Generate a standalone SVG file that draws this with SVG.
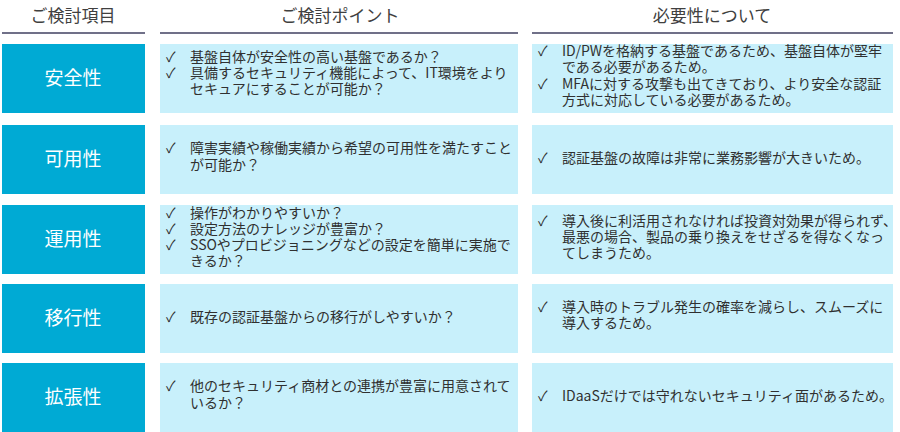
<svg xmlns="http://www.w3.org/2000/svg" width="900" height="432" viewBox="0 0 900 432">
<style>
.h{font-family:"Noto Sans CJK JP","Liberation Sans",sans-serif;font-size:17px;fill:#404040;text-anchor:middle}
.c{fill:#00AAD4}
.l{fill:#C8F0FB}
.ct{font-family:"Noto Sans CJK JP","Liberation Sans",sans-serif;font-size:19px;fill:#fff;text-anchor:middle}
.t{font-family:"Noto Sans CJK JP","Liberation Sans",sans-serif;font-size:14px;fill:#303030}
</style>
<rect width="900" height="432" fill="#fff"/>
<g id="header">
<text class="h" x="73" y="22">ご検討項目</text>
<text class="h" x="340" y="22">ご検討ポイント</text>
<text class="h" x="712" y="22">必要性について</text>
<line x1="2" y1="33" x2="145" y2="33" stroke="#404060" stroke-width="1.5"/>
<line x1="160" y1="33" x2="518" y2="33" stroke="#404060" stroke-width="1.5"/>
<line x1="532" y1="33" x2="893" y2="33" stroke="#404060" stroke-width="1.5"/>
</g>
<g id="row1">
<rect class="c" x="2" y="44" width="143" height="69"/><text class="ct" x="73" y="85">安全性</text>
<rect class="l" x="160" y="44" width="358" height="69"/>
<text class="t" x="166" y="62">✓</text><text class="t" x="190" y="62">基盤自体が安全性の高い基盤であるか？</text>
<text class="t" x="166" y="78">✓</text><text class="t" x="190" y="78">具備するセキュリティ機能によって、IT環境をより</text>
<text class="t" x="190" y="94">セキュアにすることが可能か？</text>
<rect class="l" x="532" y="44" width="361" height="69"/>
<text class="t" x="538" y="56">✓</text><text class="t" x="562" y="56">ID/PWを格納する基盤であるため、基盤自体が堅牢</text>
<text class="t" x="562" y="72">である必要があるため。</text>
<text class="t" x="538" y="89">✓</text><text class="t" x="562" y="89">MFAに対する攻撃も出てきており、より安全な認証</text>
<text class="t" x="562" y="105">方式に対応している必要があるため。</text>
</g>
<g id="row2">
<rect class="c" x="2" y="125" width="143" height="69"/><text class="ct" x="73" y="166">可用性</text>
<rect class="l" x="160" y="125" width="358" height="69"/>
<text class="t" x="166" y="153">✓</text><text class="t" x="190" y="153">障害実績や稼働実績から希望の可用性を満たすこと</text>
<text class="t" x="190" y="170">が可能か？</text>
<rect class="l" x="532" y="125" width="361" height="69"/>
<text class="t" x="538" y="163">✓</text><text class="t" x="562" y="163">認証基盤の故障は非常に業務影響が大きいため。</text>
</g>
<g id="row3">
<rect class="c" x="2" y="205" width="143" height="69"/><text class="ct" x="73" y="246">運用性</text>
<rect class="l" x="160" y="205" width="358" height="69"/>
<text class="t" x="166" y="218">✓</text><text class="t" x="190" y="218">操作がわかりやすいか？</text>
<text class="t" x="166" y="234">✓</text><text class="t" x="190" y="234">設定方法のナレッジが豊富か？</text>
<text class="t" x="166" y="250">✓</text><text class="t" x="190" y="250">SSOやプロビジョニングなどの設定を簡単に実施で</text>
<text class="t" x="190" y="266">きるか？</text>
<rect class="l" x="532" y="205" width="361" height="69"/>
<text class="t" x="538" y="226">✓</text><text class="t" x="562" y="226">導入後に利活用されなければ投資対効果が得られず、</text>
<text class="t" x="562" y="242">最悪の場合、製品の乗り換えをせざるを得なくなっ</text>
<text class="t" x="562" y="258">てしまうため。</text>
</g>
<g id="row4">
<rect class="c" x="2" y="284" width="143" height="69"/><text class="ct" x="73" y="325">移行性</text>
<rect class="l" x="160" y="284" width="358" height="69"/>
<text class="t" x="166" y="322">✓</text><text class="t" x="190" y="322">既存の認証基盤からの移行がしやすいか？</text>
<rect class="l" x="532" y="284" width="361" height="69"/>
<text class="t" x="538" y="312">✓</text><text class="t" x="562" y="312">導入時のトラブル発生の確率を減らし、スムーズに</text>
<text class="t" x="562" y="328">導入するため。</text>
</g>
<g id="row5">
<rect class="c" x="2" y="363" width="143" height="69"/><text class="ct" x="73" y="404">拡張性</text>
<rect class="l" x="160" y="363" width="358" height="69"/>
<text class="t" x="166" y="391">✓</text><text class="t" x="190" y="391">他のセキュリティ商材との連携が豊富に用意されて</text>
<text class="t" x="190" y="408">いるか？</text>
<rect class="l" x="532" y="363" width="361" height="69"/>
<text class="t" x="538" y="401">✓</text><text class="t" x="562" y="401">IDaaSだけでは守れないセキュリティ面があるため。</text>
</g>
</svg>
